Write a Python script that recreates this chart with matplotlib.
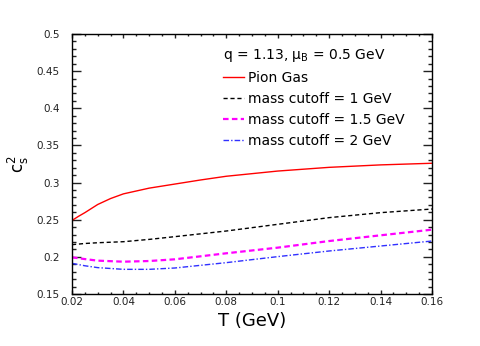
import numpy as np
import matplotlib
matplotlib.use('Agg')
import matplotlib.pyplot as plt
from matplotlib.ticker import MultipleLocator

plt.rcParams['font.family'] = ['DejaVu Sans']
plt.rcParams['mathtext.fontset'] = 'dejavusans'

# Data
T_pion = [0.02, 0.0225, 0.025, 0.03, 0.035, 0.04, 0.05, 0.06, 0.07, 0.08, 0.10, 0.12, 0.14, 0.16]
pion_gas = [0.249, 0.2545, 0.2595, 0.2705, 0.2785, 0.2848, 0.2925, 0.298, 0.3035, 0.3085,
            0.3155, 0.3205, 0.3238, 0.326]

T = [0.02, 0.025, 0.03, 0.04, 0.05, 0.06, 0.08, 0.10, 0.12, 0.14, 0.16]
cut_1 = [0.2164, 0.218, 0.219, 0.2204, 0.2235, 0.2272, 0.2348, 0.2438, 0.2528, 0.2595, 0.2644]
cut_15 = [0.1994, 0.197, 0.1949, 0.1935, 0.1944, 0.1967, 0.2048, 0.2124, 0.2213, 0.229, 0.2366]
cut_2 = [0.1913, 0.188, 0.1855, 0.1832, 0.1832, 0.185, 0.1922, 0.2003, 0.2079, 0.2146, 0.2213]

fig = plt.figure(figsize=(4.81, 3.46), dpi=100, facecolor='white')
ax = fig.add_axes([72/481, 1-294/346, 360/481, 260/346])

ax.plot(T_pion, pion_gas, color='red', lw=1.0, label='Pion Gas')
ax.plot(T, cut_1, color='black', lw=1.0, ls=(0, (3, 2)), label='mass cutoff = 1 GeV')
ax.plot(T, cut_15, color='magenta', lw=1.6, ls=(0, (2.5, 1.5)), label='mass cutoff = 1.5 GeV')
ax.plot(T, cut_2, color='#3030ff', lw=1.0, ls=(0, (4, 1.5, 1, 1.5)), label='mass cutoff = 2 GeV')

ax.set_xlim(0.02, 0.16)
ax.set_ylim(0.15, 0.5)
ax.xaxis.set_major_locator(MultipleLocator(0.02))
ax.xaxis.set_minor_locator(MultipleLocator(0.005))
ax.yaxis.set_major_locator(MultipleLocator(0.05))
ax.yaxis.set_minor_locator(MultipleLocator(0.01))
ax.xaxis.set_major_formatter(plt.FuncFormatter(lambda v, p: f'{v:g}'))
ax.yaxis.set_major_formatter(plt.FuncFormatter(lambda v, p: f'{v:g}'))
ax.tick_params(which='both', direction='in', top=True, right=True, labelsize=7.5, width=1,
               colors='#222222')
ax.tick_params(axis='x', which='major', length=3.2, pad=2)
ax.tick_params(axis='x', which='minor', length=1.6)
ax.tick_params(axis='y', which='major', length=6.5, pad=9)
ax.tick_params(axis='y', which='minor', length=3.2)
for s in ax.spines.values():
    s.set_linewidth(1.0)

ax.set_xlabel('T (GeV)', fontsize=13)
ax.set_ylabel(r'$\mathregular{c_s^2}$', fontsize=12, rotation=90)
ax.xaxis.set_label_coords(0.5, -0.07)
ax.yaxis.set_label_coords(-0.115, 0.5)

leg = ax.legend(loc='upper left', bbox_to_anchor=(0.419, 0.95), frameon=False, fontsize=10,
                handlelength=1.5, handletextpad=0.3, labelspacing=0.5,
                title=r'q = 1.13, $\mathregular{\mu_B}$ = 0.5 GeV', title_fontsize=10,
                alignment='left', borderpad=0, borderaxespad=0)

fig.savefig('out.png', dpi=100, facecolor='white')
